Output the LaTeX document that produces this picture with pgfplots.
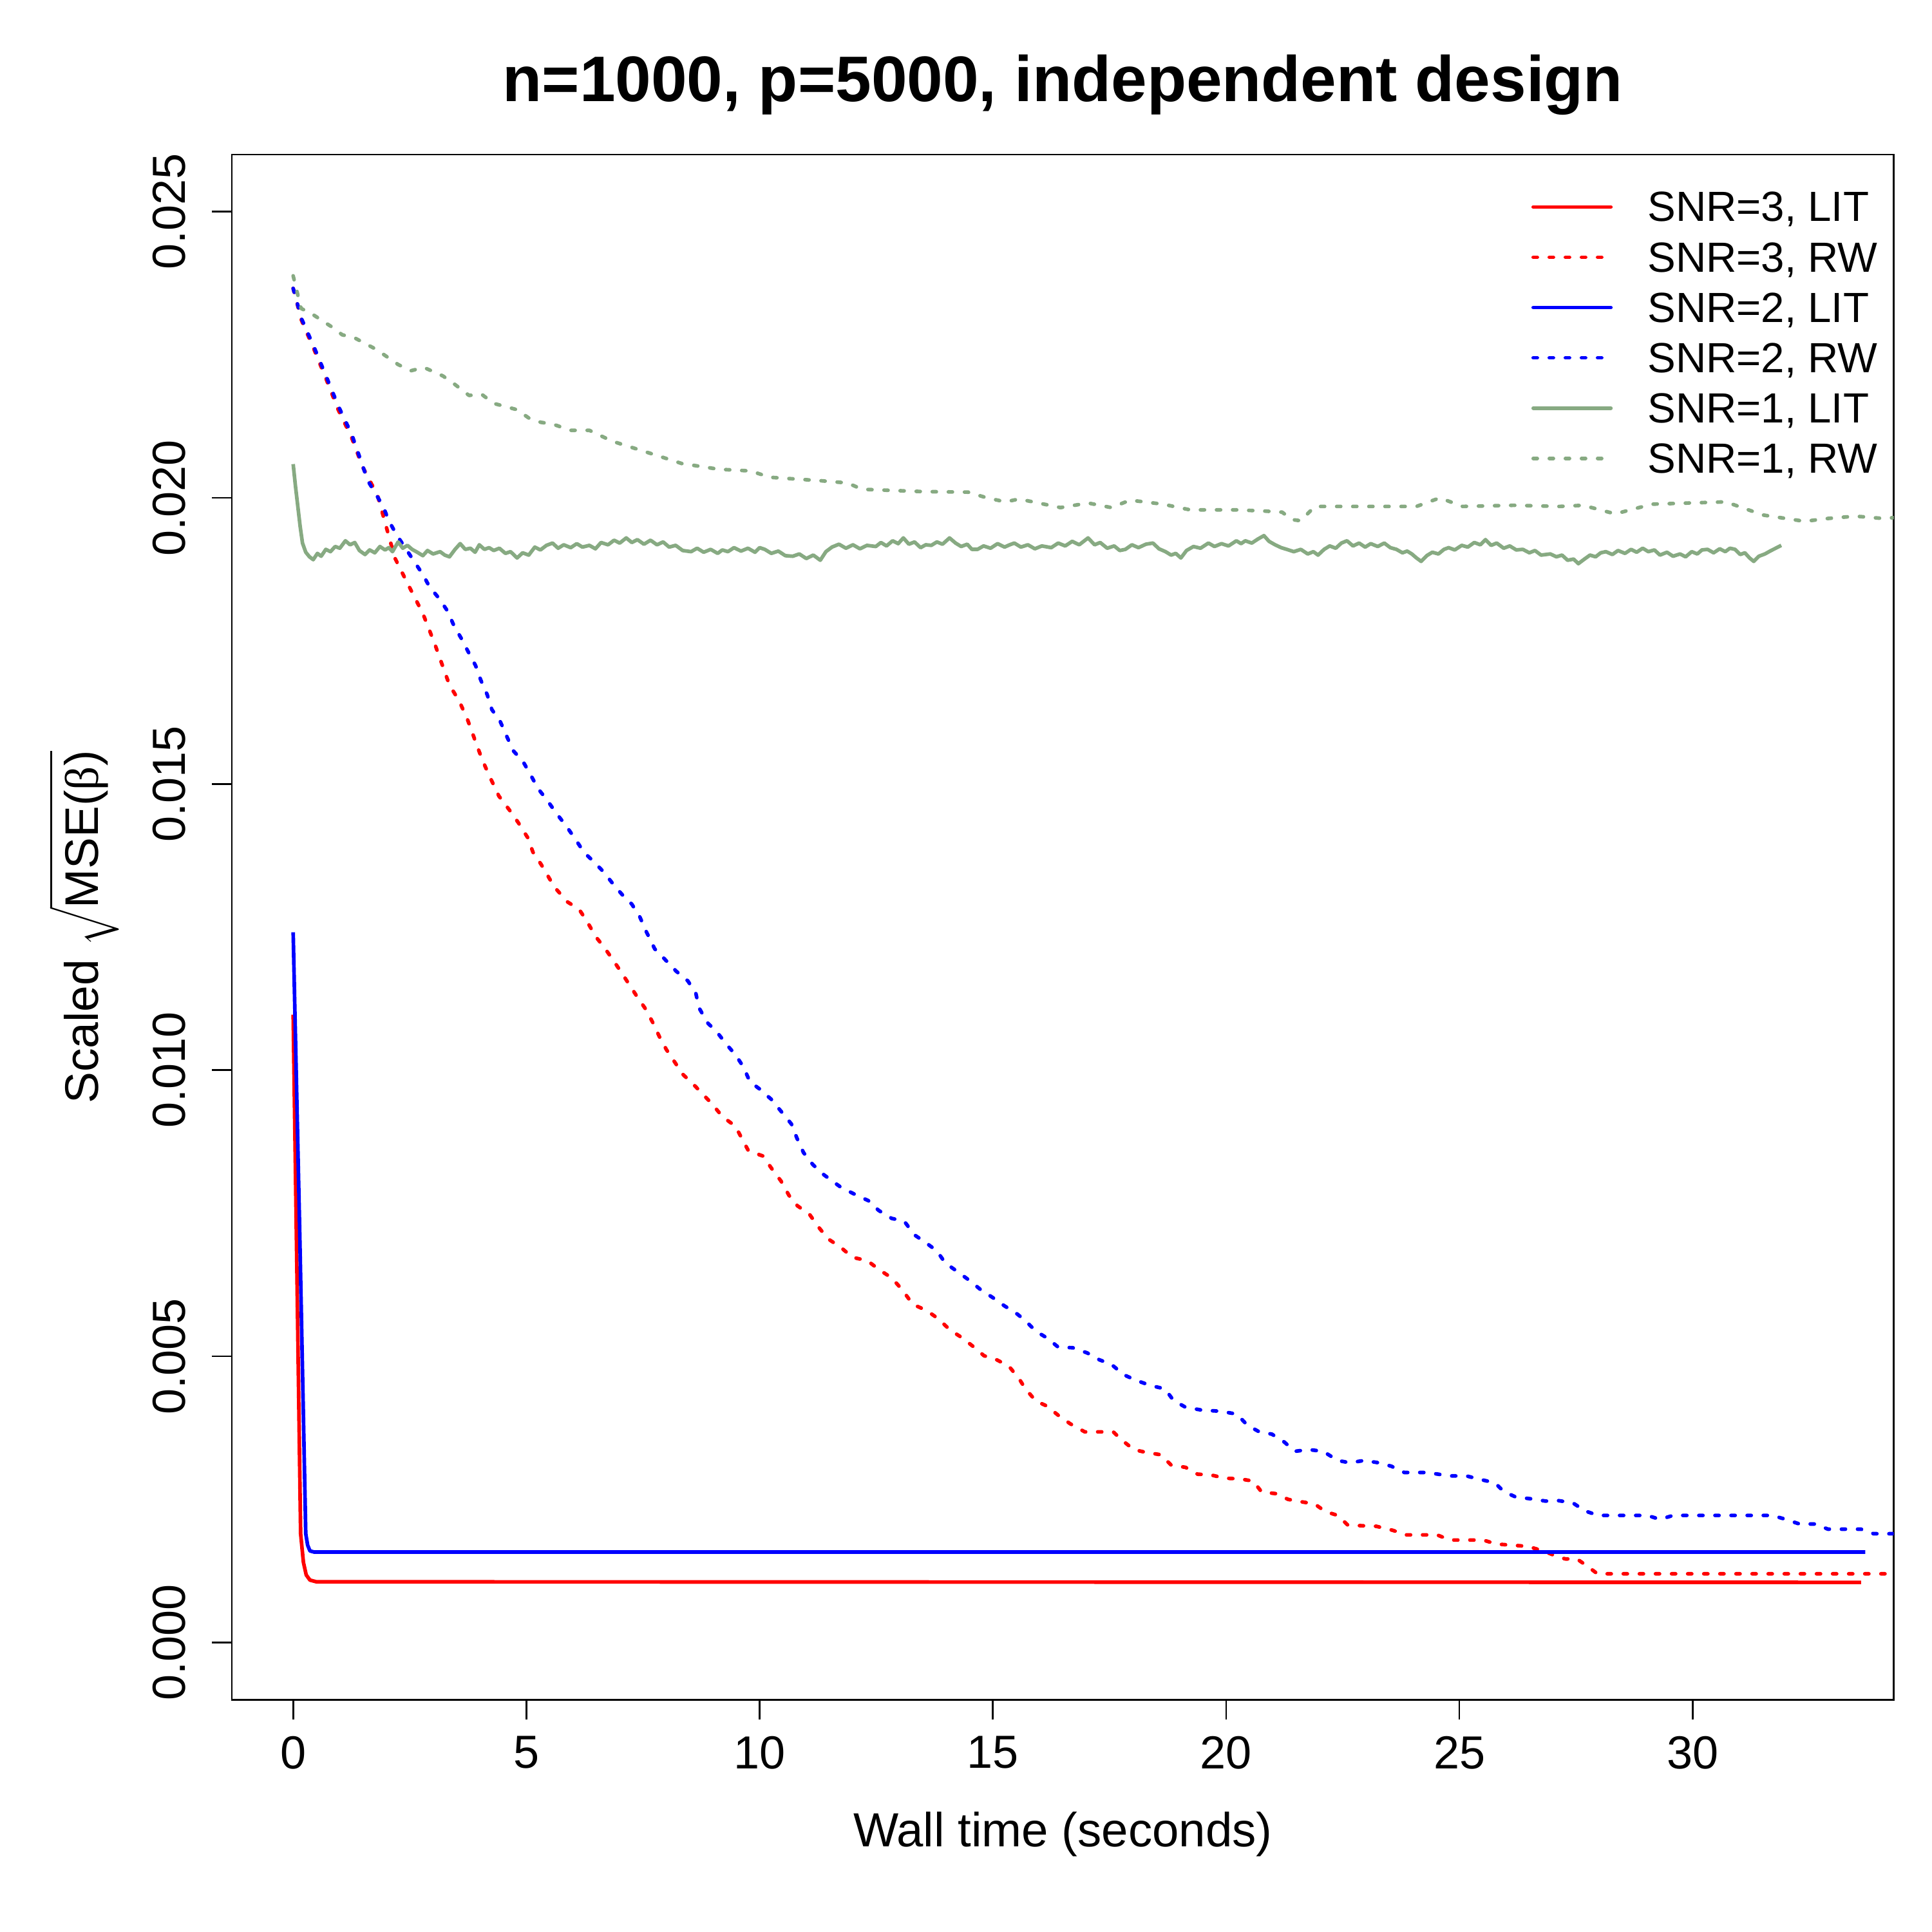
\documentclass[border=0pt]{standalone}
\usepackage{fontspec}
\setmainfont{Liberation Sans}
\newfontfamily\grk{Liberation Serif}
\usepackage{pgfplots}
\pgfplotsset{compat=1.18}
\definecolor{sgreen}{RGB}{135,170,130}
\begin{document}
\begin{tikzpicture}
\begin{axis}[
 at={(0,0)}, anchor=south west,
 scale only axis, width=433.5bp, height=403.1bp,
 xmin=-1.313, xmax=34.31, ymin=-0.001, ymax=0.026,
 axis line style={line width=0.45bp},
 every tick/.style={black, line width=0.45bp},
 tick align=outside, major tick length=5.2bp,
 xtick={0,5,10,15,20,25,30}, xticklabels={0,5,10,15,20,25,30},
 ytick={0,0.005,0.01,0.015,0.02,0.025},
 yticklabels={0.000,0.005,0.010,0.015,0.020,0.025},
 scaled y ticks=false,
 xtick pos=bottom, ytick pos=left,
 tick label style={font=\fontsize{12.1bp}{14bp}\selectfont},
 xticklabel style={anchor=north, inner sep=0pt},
 xticklabel shift=4.16bp,
 yticklabel style={rotate=90, anchor=south, inner sep=0pt},
 yticklabel shift=6.7bp,
 every axis title shift=0pt,
 title={n=1000, p=5000, independent design},
 title style={at={(axis description cs:0.5,1.03423)}, anchor=base, inner sep=0pt, font=\bfseries\fontsize{16.8bp}{20bp}\selectfont},
 xlabel={Wall time (seconds)},
 xlabel style={at={(axis description cs:0.5,-0.09526)}, anchor=base, inner sep=0pt, font=\fontsize{12.5bp}{14bp}\selectfont},
 ylabel={Scaled $\sqrt{\mbox{MSE(}\mbox{\grk β}\mbox{)}}$},
 ylabel style={at={(axis description cs:-0.08028,0.5)}, anchor=base, inner sep=0pt, font=\fontsize{12.3bp}{14bp}\selectfont},
 legend style={draw=none, fill=none, at={(axis description cs:0.7820,0.97546)}, anchor=north west,
   inner sep=0pt, outer sep=0pt, row sep=5.52bp, column sep=9.1bp,
   font=\fontsize{11bp}{12bp}\selectfont,
   nodes={inner sep=0pt, text height=7.6bp, text depth=0pt}},
 legend cell align=left,
 legend image code/.code={\draw[#1, line cap=round] (0bp,0bp) -- (20.25bp,0bp);},
 every axis plot/.append style={line width=0.95bp, line join=round},
 rw/.style={line cap=round, dash pattern=on 1.05bp off 3.15bp},
]
% SNR=3, LIT
\addplot[red, no markers] table {
x y
0 0.01097
0.08 0.0065
0.16 0.0019
0.22 0.0014
0.28 0.00118
0.36 0.00109
0.5 0.00106
33.61 0.00105
};
\addlegendentry{SNR=3, LIT}
% SNR=3, RW
\addplot[red, no markers, rw] table {
x y
0 0.02366
0.18 0.02310
0.45 0.02259
0.71 0.02207
0.96 0.02155
1.25 0.02106
1.49 0.02054
1.81 0.02004
1.98 0.01954
2.18 0.01895
2.43 0.01854
2.78 0.01798
3.03 0.01746
3.35 0.01673
3.56 0.01645
3.74 0.01612
3.91 0.01574
4.05 0.01543
4.19 0.01517
4.41 0.01479
4.65 0.01453
4.83 0.01432
5.03 0.01406
5.14 0.01381
5.32 0.01359
5.60 0.01320
5.88 0.01294
6.13 0.01281
6.30 0.01260
6.48 0.01234
6.69 0.01212
6.87 0.01191
7.05 0.01169
7.36 0.01130
7.57 0.01105
7.71 0.01083
7.86 0.01057
8.00 0.01036
8.18 0.01014
8.35 0.00993
8.63 0.00971
8.98 0.00941
9.20 0.00919
9.48 0.00902
9.76 0.00859
10.07 0.00850
10.25 0.00829
10.46 0.00806
10.63 0.00781
10.81 0.00763
11.07 0.00748
11.25 0.00727
11.47 0.00705
11.73 0.00691
11.99 0.00673
12.31 0.00667
12.57 0.00651
12.83 0.00637
13.06 0.00616
13.28 0.00591
13.58 0.00580
13.84 0.00565
14.08 0.00546
14.33 0.00533
14.58 0.00517
14.81 0.00501
15.08 0.00494
15.34 0.00483
15.56 0.00461
15.70 0.00443
15.92 0.00422
16.16 0.00413
16.40 0.00397
16.66 0.00382
16.97 0.00368
17.58 0.00368
17.76 0.00354
18.02 0.00337
18.29 0.00332
18.60 0.00328
18.82 0.00310
19.13 0.00306
19.39 0.00294
19.66 0.00293
19.97 0.00287
20.28 0.00286
20.58 0.00282
20.76 0.00263
21.07 0.00260
21.33 0.00250
21.60 0.00246
21.90 0.00242
22.12 0.00229
22.39 0.00222
22.61 0.00205
23.22 0.00203
23.57 0.00196
23.86 0.00188
24.52 0.00188
24.80 0.00179
25.51 0.00179
25.79 0.00172
26.46 0.00168
26.80 0.00160
27.10 0.00150
27.27 0.00146
27.52 0.00146
27.73 0.00134
27.96 0.00120
34.40 0.00120
};
\addlegendentry{SNR=3, RW}
% SNR=2, LIT
\addplot[blue, no markers] table {
x y
0 0.01241
0.14 0.0072
0.27 0.0019
0.31 0.0017
0.36 0.0016
0.45 0.00158
33.7 0.00158
};
\addlegendentry{SNR=2, LIT}
% SNR=2, RW
\addplot[blue, no markers, rw] table {
x y
0 0.02366
0.18 0.02313
0.45 0.02263
0.71 0.02212
0.96 0.02162
1.26 0.02110
1.60 0.02030
1.93 0.01985
2.05 0.01960
2.22 0.01935
2.57 0.01892
2.78 0.01866
2.92 0.01845
3.14 0.01823
3.31 0.01802
3.45 0.01776
3.60 0.01755
3.74 0.01733
3.91 0.01707
4.02 0.01682
4.16 0.01656
4.26 0.01630
4.44 0.01609
4.58 0.01583
4.72 0.01558
4.93 0.01539
5.11 0.01513
5.25 0.01492
5.46 0.01470
5.64 0.01449
5.85 0.01427
6.03 0.01406
6.24 0.01380
6.41 0.01367
6.66 0.01346
6.87 0.01324
7.05 0.01307
7.26 0.01290
7.43 0.01268
7.57 0.01242
7.75 0.01212
8.00 0.01191
8.21 0.01173
8.46 0.01156
8.63 0.01135
8.70 0.01109
8.88 0.01083
9.09 0.01066
9.30 0.01044
9.48 0.01027
9.65 0.01006
9.79 0.00980
10.00 0.00967
10.25 0.00949
10.46 0.00928
10.68 0.00906
10.80 0.00881
10.94 0.00856
11.14 0.00835
11.38 0.00817
11.73 0.00796
12.04 0.00783
12.33 0.00772
12.55 0.00755
12.83 0.00741
13.10 0.00736
13.32 0.00712
13.54 0.00700
13.80 0.00684
13.98 0.00663
14.24 0.00648
14.49 0.00633
14.73 0.00617
14.99 0.00603
15.25 0.00588
15.52 0.00574
15.70 0.00562
15.92 0.00544
16.18 0.00531
16.40 0.00516
16.71 0.00515
17.02 0.00506
17.28 0.00494
17.54 0.00486
17.80 0.00468
18.07 0.00458
18.38 0.00449
18.69 0.00443
18.87 0.00423
19.13 0.00411
19.48 0.00406
19.88 0.00404
20.23 0.00399
20.45 0.00380
20.71 0.00368
20.98 0.00364
21.25 0.00350
21.47 0.00334
21.77 0.00337
22.08 0.00334
22.39 0.00318
22.65 0.00314
22.96 0.00318
23.27 0.00314
23.54 0.00308
23.82 0.00297
24.30 0.00297
24.80 0.00291
25.15 0.00291
25.44 0.00285
25.76 0.00279
25.95 0.00264
26.21 0.00254
26.54 0.00251
26.85 0.00247
27.11 0.00248
27.43 0.00244
27.69 0.00230
27.97 0.00222
29.03 0.00222
29.30 0.00215
29.58 0.00222
31.71 0.00222
32.00 0.00215
32.29 0.00207
32.63 0.00207
32.90 0.00198
33.61 0.00198
33.88 0.00190
34.40 0.00190
};
\addlegendentry{SNR=2, RW}
% SNR=1, LIT
\addplot[sgreen, no markers] table {
x y
0 0.02059
0.05 0.02020
0.10 0.01985
0.15 0.01950
0.20 0.01921
0.27 0.01905
0.35 0.01897
0.43 0.01892
0.52 0.01903
0.60 0.01898
0.70 0.01910
0.80 0.01906
0.90 0.01915
1.00 0.01912
1.12 0.01925
1.22 0.01918
1.32 0.01922
1.42 0.01908
1.54 0.01901
1.64 0.01909
1.75 0.01904
1.86 0.01915
1.97 0.01909
2.05 0.01913
2.13 0.01906
2.25 0.01923
2.35 0.01912
2.45 0.01917
2.55 0.01910
2.66 0.01905
2.78 0.01899
2.88 0.01908
3.00 0.01902
3.15 0.01906
3.25 0.01900
3.35 0.01897
3.47 0.01910
3.58 0.01920
3.69 0.01910
3.80 0.01912
3.90 0.01905
3.99 0.01918
4.10 0.01910
4.20 0.01913
4.30 0.01908
4.42 0.01912
4.55 0.01903
4.66 0.01906
4.80 0.01895
4.92 0.01904
5.05 0.01900
5.18 0.01914
5.30 0.01909
5.43 0.01917
5.56 0.01921
5.68 0.01912
5.80 0.01918
5.95 0.01913
6.08 0.01920
6.20 0.01914
6.35 0.01917
6.48 0.01911
6.60 0.01922
6.75 0.01918
6.88 0.01926
7.00 0.01921
7.14 0.01930
7.26 0.01922
7.38 0.01927
7.52 0.01919
7.66 0.01926
7.80 0.01918
7.93 0.01923
8.06 0.01914
8.20 0.01917
8.35 0.01908
8.53 0.01906
8.66 0.01912
8.80 0.01905
8.95 0.01910
9.10 0.01903
9.20 0.01909
9.32 0.01906
9.45 0.01913
9.60 0.01907
9.75 0.01912
9.90 0.01905
10.00 0.01913
10.11 0.01910
10.25 0.01903
10.40 0.01907
10.55 0.01899
10.71 0.01898
10.85 0.01902
11.00 0.01894
11.15 0.01900
11.30 0.01891
11.42 0.01906
11.55 0.01914
11.70 0.01919
11.85 0.01912
12.00 0.01918
12.15 0.01911
12.30 0.01917
12.49 0.01915
12.60 0.01922
12.72 0.01916
12.85 0.01925
12.97 0.01920
13.08 0.01930
13.20 0.01919
13.32 0.01923
13.45 0.01913
13.56 0.01918
13.68 0.01917
13.80 0.01923
13.92 0.01919
14.07 0.01930
14.20 0.01921
14.32 0.01915
14.45 0.01919
14.55 0.01910
14.67 0.01910
14.80 0.01916
14.95 0.01912
15.10 0.01920
15.25 0.01914
15.36 0.01918
15.46 0.01921
15.60 0.01914
15.75 0.01918
15.90 0.01911
16.05 0.01916
16.25 0.01913
16.40 0.01921
16.55 0.01916
16.70 0.01924
16.85 0.01918
17.04 0.01930
17.18 0.01918
17.30 0.01922
17.45 0.01912
17.60 0.01916
17.72 0.01908
17.84 0.01910
17.98 0.01918
18.12 0.01913
18.28 0.01919
18.43 0.01921
18.56 0.01911
18.70 0.01906
18.82 0.01900
18.92 0.01903
19.03 0.01895
19.15 0.01908
19.30 0.01915
19.45 0.01912
19.62 0.01921
19.75 0.01915
19.90 0.01920
20.05 0.01916
20.22 0.01925
20.32 0.01920
20.41 0.01925
20.55 0.01921
20.68 0.01928
20.81 0.01934
20.92 0.01924
21.05 0.01918
21.18 0.01913
21.30 0.01910
21.45 0.01906
21.60 0.01910
21.75 0.01902
21.87 0.01906
21.97 0.01900
22.10 0.01910
22.22 0.01916
22.35 0.01912
22.47 0.01921
22.59 0.01925
22.72 0.01916
22.85 0.01921
22.98 0.01914
23.10 0.01920
23.25 0.01915
23.39 0.01921
23.52 0.01913
23.65 0.01910
23.78 0.01904
23.88 0.01907
23.98 0.01902
24.08 0.01895
24.18 0.01889
24.30 0.01899
24.42 0.01905
24.55 0.01902
24.67 0.01910
24.77 0.01913
24.90 0.01909
25.05 0.01917
25.18 0.01914
25.32 0.01922
25.45 0.01918
25.56 0.01927
25.68 0.01917
25.80 0.01921
25.95 0.01912
26.08 0.01916
26.22 0.01909
26.36 0.01910
26.50 0.01904
26.62 0.01908
26.75 0.01900
26.95 0.01902
27.08 0.01897
27.20 0.01900
27.32 0.01891
27.45 0.01893
27.55 0.01885
27.68 0.01893
27.80 0.01900
27.92 0.01897
28.03 0.01904
28.14 0.01906
28.28 0.01901
28.40 0.01908
28.55 0.01903
28.68 0.01910
28.80 0.01905
28.93 0.01912
29.05 0.01906
29.18 0.01909
29.30 0.01900
29.45 0.01905
29.58 0.01898
29.73 0.01902
29.85 0.01897
29.98 0.01906
30.10 0.01902
30.20 0.01909
30.32 0.01910
30.45 0.01904
30.58 0.01911
30.70 0.01906
30.80 0.01912
30.91 0.01910
31.02 0.01901
31.12 0.01904
31.22 0.01895
31.31 0.01889
31.42 0.01898
31.55 0.01902
31.66 0.01907
31.78 0.01912
31.90 0.01917
};
\addlegendentry{SNR=1, LIT}
% SNR=1, RW
\addplot[sgreen, no markers, rw] table {
x y
0 0.02388
0.17 0.02331
0.41 0.02321
0.86 0.02297
1.05 0.02285
1.33 0.02279
1.79 0.02259
2.25 0.02233
2.52 0.02222
2.80 0.02228
3.21 0.02213
3.47 0.02198
3.77 0.02179
4.04 0.02181
4.30 0.02165
4.80 0.02154
5.06 0.02139
5.31 0.02132
5.56 0.02129
5.95 0.02118
6.35 0.02118
6.84 0.02099
7.34 0.02086
7.84 0.02073
8.33 0.02060
9.12 0.02050
9.81 0.02047
10.21 0.02036
11.30 0.02030
11.89 0.02026
12.19 0.02015
13.48 0.02011
14.47 0.02010
14.87 0.02000
15.27 0.01993
15.56 0.01998
16.45 0.01983
17.04 0.01991
17.54 0.01983
17.94 0.01996
18.64 0.01989
19.23 0.01979
20.22 0.01979
20.81 0.01977
21.20 0.01975
21.41 0.01962
21.60 0.01960
21.90 0.01985
23.19 0.01985
24.08 0.01985
24.58 0.02000
25.07 0.01985
26.16 0.01987
27.15 0.01985
27.65 0.01987
28.34 0.01972
29.13 0.01989
29.92 0.01991
30.71 0.01993
31.51 0.01970
32.40 0.01959
32.90 0.01964
33.49 0.01968
34.08 0.01964
34.40 0.01966
};
\addlegendentry{SNR=1, RW}
\end{axis}
\pgfresetboundingbox
\path[use as bounding box] (-60.5bp,-60.6bp) rectangle (443.5bp,443.4bp);
\end{tikzpicture}
\end{document}
